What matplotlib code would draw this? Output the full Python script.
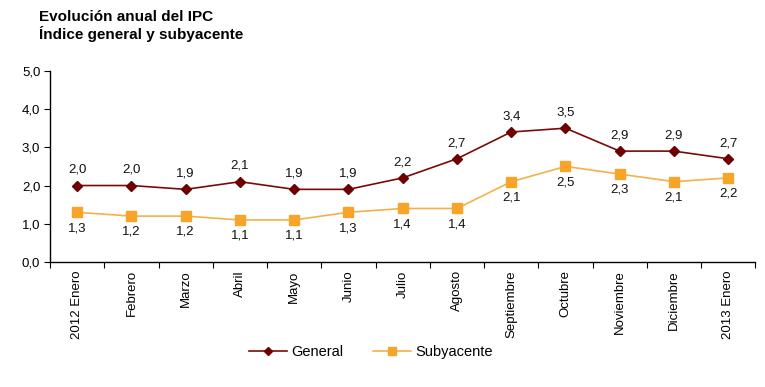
import matplotlib
matplotlib.use("Agg")
import matplotlib.pyplot as plt
import numpy as np

plt.rcParams['font.family'] = ['Liberation Sans', 'DejaVu Sans']

categories = ["2012 Enero", "Febrero", "Marzo", "Abril", "Mayo", "Junio", "Julio",
              "Agosto", "Septiembre", "Octubre", "Noviembre", "Diciembre", "2013 Enero"]
general = [2.0, 2.0, 1.9, 2.1, 1.9, 1.9, 2.2, 2.7, 3.4, 3.5, 2.9, 2.9, 2.7]
subyacente = [1.3, 1.2, 1.2, 1.1, 1.1, 1.3, 1.4, 1.4, 2.1, 2.5, 2.3, 2.1, 2.2]
yticks = [0, 1, 2, 3, 4, 5]

def fmt(v):
    return f"{v:.1f}".replace(".", ",")

fig = plt.figure(figsize=(7.65, 3.87), dpi=100)
ax = fig.add_axes([0.0654, 0.323, 0.922, 0.494])

x = np.arange(len(categories))
c_gen = "#7A0A0A"
c_sub = "#F7A428"
ax.plot(x, general, color=c_gen, lw=1.2, marker="D", ms=5, mfc="#6E0000", mec="#6E0000", label="General")
ax.plot(x, subyacente, color="#F5B04A", lw=1.2, marker="s", ms=7, mfc=c_sub, mec=c_sub, label="Subyacente")

for xi, v in zip(x, general):
    ax.annotate(fmt(v), (xi, v), xytext=(0, 7), textcoords="offset points",
                ha="center", va="bottom", fontsize=9.5, color="#111111")
for xi, v in zip(x, subyacente):
    ax.annotate(fmt(v), (xi, v), xytext=(0, -7), textcoords="offset points",
                ha="center", va="top", fontsize=9.5, color="#111111")

ax.set_xlim(-0.5, len(categories) - 0.5)
ax.set_ylim(0, 5)
ax.set_yticks(yticks)
ax.set_yticklabels([fmt(v) for v in yticks], fontsize=9.5)
ax.set_xticks(np.arange(-0.5, len(categories), 1.0))
ax.set_xticklabels([])
ax.set_xticks(x, minor=True)
ax.set_xticklabels(categories, minor=True, rotation=90, fontsize=9.5)
ax.tick_params(axis="x", which="minor", length=0, pad=6)
ax.tick_params(axis="x", which="major", length=4, direction="out")
ax.tick_params(axis="y", length=4, direction="out", pad=3)
for s in ["top", "right"]:
    ax.spines[s].set_visible(False)
for s in ["left", "bottom"]:
    ax.spines[s].set_color("black")
    ax.spines[s].set_linewidth(1)

fig.text(0.051, 0.975, "Evolución anual del IPC\nÍndice general y subyacente",
         fontsize=11, fontweight="bold", va="top", ha="left", linespacing=1.15)

fig.legend(loc="center", bbox_to_anchor=(0.485, 0.09), ncol=2, frameon=False,
           fontsize=10.5, handlelength=2.6, columnspacing=2.0, handletextpad=0.3,
           markerscale=0.75)

fig.savefig("out.png", dpi=100, facecolor="white")
